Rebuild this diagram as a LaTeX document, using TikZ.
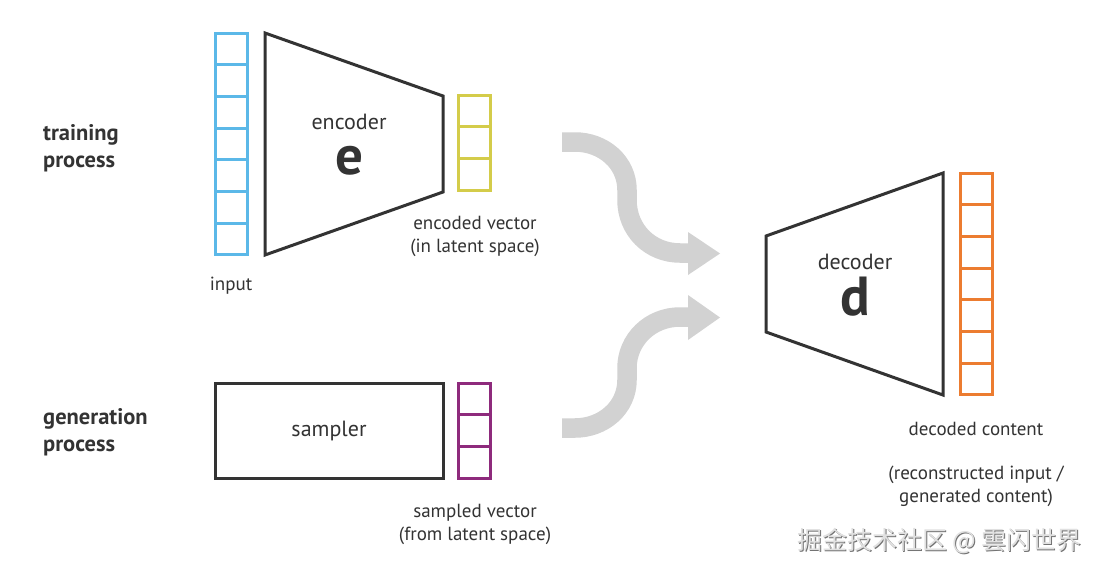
\documentclass[tikz,border=0pt]{standalone}
\usepackage{fontspec}
\setmainfont{PT Sans}
\newfontfamily\cjk{Noto Sans CJK SC}
\definecolor{ink}{HTML}{333333}
\definecolor{vblue}{HTML}{5BB8E8}
\definecolor{vyellow}{HTML}{D4CC4A}
\definecolor{vpurple}{HTML}{8E2A7C}
\definecolor{vorange}{HTML}{EC7C30}
\definecolor{flow}{HTML}{D2D2D2}
\newcommand\cellvec[6]{% name, x, ytop, n, cellheight, colour
  \foreach \i in {1,...,#4}{
    \draw[vecline,draw=#6] (#2,{#3+(\i-1)*#5}) rectangle (#2+32,{#3+\i*#5});
  }
  \coordinate (#1) at (#2+16,{#3+#4*#5/2});
}
\begin{document}
\begin{tikzpicture}[x=1pt,y=-1pt,
  shapeline/.style={draw=ink,line width=3pt,line join=miter},
  vecline/.style={line width=3pt},
  lbl/.style={text=ink,font=\fontsize{19}{23}\selectfont,align=center,inner sep=0pt},
  blocklbl/.style={text=ink,font=\fontsize{22}{26}\selectfont,align=center,inner sep=0pt},
  title/.style={text=ink,font=\fontsize{22.5}{27}\selectfont\bfseries,align=left,anchor=west,inner sep=0pt},
  bigletter/.style={text=ink,font=\fontsize{55}{55}\selectfont\bfseries,inner sep=0pt},
  flowline/.style={draw=flow,line width=19.5pt},
  flowhead/.style={fill=flow,draw=none}]
\useasboundingbox (0,0) rectangle (1100,573);
\fill[white] (0,0) rectangle (1100,573);

% titles
\node[title] (train) at (43,148) {training\\process};
\node[title] (gen) at (43,432) {generation\\process};

% input vector
\cellvec{inputvec}{215}{33}{7}{31.71}{vblue}
\node[lbl] (inputlbl) at (231,286) {input};

% encoder
\draw[shapeline] (265,33) -- (443,96) -- (443,192) -- (265,255) -- cycle;
\node[blocklbl] (enc) at (349,122) {encoder};
\node[bigletter] (e) at (349,161) {e};

% encoded vector
\cellvec{encvec}{458}{95}{3}{31.67}{vyellow}
\node[lbl] (enclbl) at (475,236) {encoded vector\\(in latent space)};

% sampler
\draw[shapeline] (215,383) rectangle (443,478);
\node[blocklbl] (samp) at (329,431) {sampler};

% sampled vector
\cellvec{sampvec}{458}{383}{3}{31.67}{vpurple}
\node[lbl] (samplbl) at (475,524) {sampled vector\\(from latent space)};

% decoder
\draw[shapeline] (766,236) -- (943,173) -- (943,395) -- (766,332) -- cycle;
\node[blocklbl] (dec) at (855,262) {decoder};
\node[bigletter] (d) at (855,297) {d};

% decoded vector
\cellvec{decvec}{960}{173}{7}{31.71}{vorange}
\node[lbl] (declbl) at (976,429) {decoded content};
\node[lbl] (declbl2) at (976,486) {(reconstructed input /\\generated content)};

% flow arrows
\coordinate (f1s) at (562,142);
\coordinate (f1e) at (689,253);
\coordinate (f2s) at (562,428);
\coordinate (f2e) at (689,317);
\draw[flowline] (f1s) -- (575,142) .. controls (603,142) and (627,162) .. (627,190) -- (627,200) .. controls (627,230) and (650,253) .. (680,253) -- (f1e);
\fill[flowhead] (688,232) -- (720,253.5) -- (688,275) -- cycle;
\draw[flowline] (f2s) -- (575,428) .. controls (603,428) and (627,408) .. (627,380) -- (627,368) .. controls (627,340) and (650,317) .. (680,317) -- (f2e);
\fill[flowhead] (688,295) -- (720,317.5) -- (688,340) -- cycle;

% watermark
\node[text=black!55,font=\cjk\fontsize{25}{25}\selectfont,inner sep=0pt] (wm0) at (940.5,542.5) {掘金技术社区 @ 雲闪世界};
\node[text=black!12,font=\cjk\fontsize{25}{25}\selectfont,inner sep=0pt] (wm) at (939.5,541.5) {掘金技术社区 @ 雲闪世界};
\end{tikzpicture}
\end{document}
